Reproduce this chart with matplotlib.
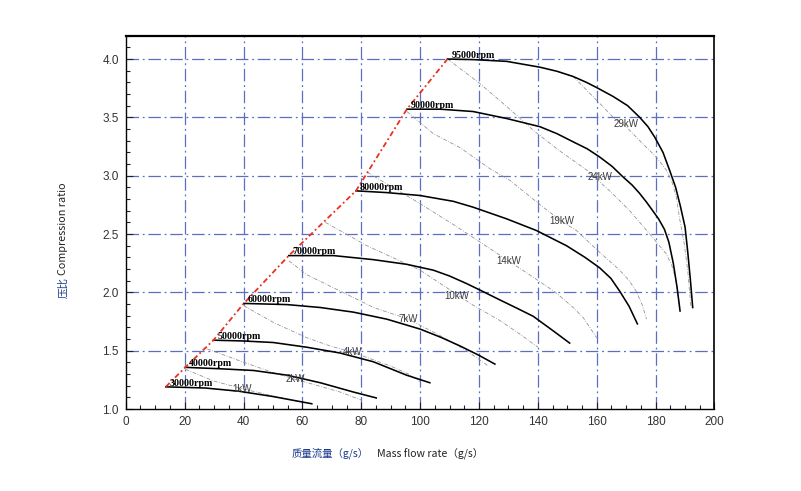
import matplotlib
matplotlib.use("Agg")
import matplotlib.pyplot as plt
from matplotlib.ticker import MultipleLocator, FormatStrFormatter

# ---------------- data ----------------
speed_labels = ["30000rpm", "40000rpm", "50000rpm", "60000rpm",
                "70000rpm", "80000rpm", "90000rpm", "95000rpm"]

s30_x = [13.6, 27.0, 38.5, 50.0, 63.2]
s30_y = [1.19, 1.18, 1.152, 1.107, 1.045]
s40_x = [20.2, 32.0, 43.5, 54.8, 66.1, 77.4, 85.1]
s40_y = [1.357, 1.345, 1.33, 1.29, 1.225, 1.145, 1.095]
s50_x = [29.8, 40.0, 50.1, 61.4, 72.8, 84.1, 95.4, 103.3]
s50_y = [1.59, 1.583, 1.57, 1.53, 1.48, 1.405, 1.29, 1.225]
s60_x = [40.1, 54.8, 66.1, 77.4, 88.7, 100.0, 107.0, 113.6, 120.0, 125.4]
s60_y = [1.905, 1.895, 1.87, 1.83, 1.77, 1.685, 1.615, 1.54, 1.46, 1.385]
s70_x = [55.4, 70.6, 84.2, 95.5, 104.5, 110.0, 115.8, 121.5, 127.1, 132.8, 138.4, 145.2, 150.8]
s70_y = [2.315, 2.315, 2.28, 2.24, 2.19, 2.14, 2.075, 2.005, 1.935, 1.865, 1.795, 1.67, 1.565]
s80_x = [78.2, 88.7, 100.0, 111.3, 118.0, 129.4, 139.5, 149.7, 156.0, 161.0, 164.8, 167.8, 171.0, 173.8]
s80_y = [2.87, 2.855, 2.83, 2.78, 2.73, 2.63, 2.53, 2.40, 2.30, 2.21, 2.12, 2.01, 1.88, 1.73]
s90_x = [95.5, 106.8, 118.0, 129.4, 140.7, 146.5, 152.0, 156.8, 161.0, 165.2, 168.9, 172.0, 174.5, 177.0,
         179.0, 181.0, 183.0, 184.5, 186.0, 187.3, 188.3]
s90_y = [3.57, 3.57, 3.55, 3.49, 3.42, 3.36, 3.29, 3.23, 3.16, 3.08, 2.99, 2.92, 2.85, 2.77,
         2.70, 2.63, 2.54, 2.43, 2.25, 2.04, 1.84]
s95_x = [109.3, 118.0, 129.4, 140.7, 146.5, 152.0, 156.5, 160.0, 165.5, 170.5, 174.6, 177.4, 179.7,
         182.5, 184.7, 186.8, 188.4, 190.0, 190.9, 191.8, 192.6]
s95_y = [4.0, 3.995, 3.98, 3.93, 3.895, 3.85, 3.80, 3.755, 3.68, 3.60, 3.50, 3.42, 3.33,
         3.20, 3.05, 2.90, 2.74, 2.56, 2.35, 2.11, 1.87]

surge_x = [13.6, 20.2, 29.8, 40.1, 55.4, 78.2, 95.5, 109.3]
surge_y = [1.19, 1.357, 1.59, 1.905, 2.315, 2.87, 3.57, 4.0]

power_labels = ["1kW", "2kW", "4kW", "7kW", "10kW", "14kW", "19kW", "24kW", "29kW"]
power_lab_x = [39.5, 57.6, 77.2, 96.0, 112.5, 130.0, 148.0, 161.0, 170.0]
power_lab_y = [1.175, 1.255, 1.485, 1.77, 1.965, 2.27, 2.61, 2.99, 3.44]

p1_x = [20.3, 29.9, 39.5, 50.3, 60.4]
p1_y = [1.34, 1.24, 1.175, 1.11, 1.055]
p2_x = [27.7, 39.0, 50.3, 57.6, 72.9, 80.2]
p2_y = [1.515, 1.41, 1.31, 1.255, 1.145, 1.075]
p4_x = [40.1, 50.3, 61.6, 69.5, 77.2, 89.8, 96.0, 100.0]
p4_y = [1.885, 1.74, 1.61, 1.54, 1.485, 1.37, 1.30, 1.235]
p7_x = [55.4, 61.6, 72.9, 84.2, 96.0, 106.0, 115.8, 123.1]
p7_y = [2.27, 2.15, 2.01, 1.87, 1.77, 1.64, 1.50, 1.37]
p10_x = [67.8, 81.9, 100.0, 109.0, 118.0, 127.0, 134.0, 140.0]
p10_y = [2.60, 2.40, 2.19, 2.04, 1.89, 1.76, 1.64, 1.53]
p14_x = [82.0, 100.0, 112.0, 124.0, 130.0, 138.4, 146.0, 152.0, 155.5, 157.6, 160.0]
p14_y = [3.03, 2.76, 2.57, 2.37, 2.27, 2.13, 2.0, 1.87, 1.78, 1.70, 1.61]
p19_x = [95.5, 104.5, 113.6, 123.7, 130.5, 141.8, 148.0, 153.1, 160.7, 167.8, 171.0, 173.4, 175.5, 176.9]
p19_y = [3.55, 3.36, 3.24, 3.06, 2.96, 2.73, 2.61, 2.53, 2.35, 2.19, 2.10, 2.01, 1.89, 1.77]
p24_x = [109.3, 120.3, 130.0, 138.4, 147.0, 156.5, 164.4, 171.2, 178.0, 183.6, 185.5, 187.0, 188.3]
p24_y = [4.0, 3.79, 3.58, 3.39, 3.22, 3.05, 2.87, 2.70, 2.50, 2.33, 2.23, 2.10, 1.87]
p29_x = [147.0, 152.0, 161.0, 166.0, 170.0, 174.6, 180.2, 183.6, 185.5, 187.0, 188.1, 189.7, 190.9, 192.0]
p29_y = [3.89, 3.85, 3.62, 3.49, 3.42, 3.30, 3.16, 3.05, 2.95, 2.82, 2.64, 2.42, 2.19, 1.87]

x_ticks = [0, 20, 40, 60, 80, 100, 120, 140, 160, 180, 200]
y_ticks = [1.0, 1.5, 2.0, 2.5, 3.0, 3.5, 4.0]

speeds = [(s30_x, s30_y), (s40_x, s40_y), (s50_x, s50_y), (s60_x, s60_y),
          (s70_x, s70_y), (s80_x, s80_y), (s90_x, s90_y), (s95_x, s95_y)]
powers = [(p1_x, p1_y), (p2_x, p2_y), (p4_x, p4_y), (p7_x, p7_y), (p10_x, p10_y),
          (p14_x, p14_y), (p19_x, p19_y), (p24_x, p24_y), (p29_x, p29_y)]

# ---------------- figure ----------------
fig = plt.figure(figsize=(8.01, 4.91), dpi=100)
ax = fig.add_axes([0.157, 0.167, 0.735, 0.7603])
ax.set_xlim(0, 200)
ax.set_ylim(1.0, 4.2)

grid_col = "#5b6ec2"
ax.set_axisbelow(True)
for xv in x_ticks[1:-1]:
    ax.axvline(xv, color=grid_col, lw=0.9, linestyle=(0, (10, 3, 1.5, 3)), zorder=0.5)
for yv in y_ticks[1:]:
    ax.axhline(yv, color=grid_col, lw=0.9, linestyle=(0, (10, 3, 1.5, 3)), zorder=0.5)

# power lines
for (px, py) in powers:
    ax.plot(px, py, color="#8c8c8c", lw=0.55, linestyle=(0, (5, 2, 1, 2)), zorder=2)
for lab, lx, ly in zip(power_labels, power_lab_x, power_lab_y):
    ax.text(lx, ly, lab, fontsize=7, family="Liberation Sans", color="#3a3a3a",
            ha="center", va="center", zorder=4)

# speed lines
for (sx, sy) in speeds:
    ax.plot(sx, sy, color="black", lw=1.15, zorder=3, solid_joinstyle="round")
for lab, (sx, sy) in zip(speed_labels, speeds):
    ax.text(sx[0] + 1.3, sy[0] + 0.01, lab, fontsize=7.2, family="Liberation Serif",
            fontweight="bold", color="black", ha="left", va="baseline", zorder=4)

# surge line
ax.plot(surge_x, surge_y, color="#e8321e", lw=1.3, linestyle=(0, (3, 1.6, 1, 1.6)), zorder=3.5)

# axes styling
ax.set_xticks(x_ticks)
ax.set_yticks(y_ticks)
ax.xaxis.set_minor_locator(MultipleLocator(5))
ax.yaxis.set_minor_locator(MultipleLocator(0.1))
ax.yaxis.set_major_formatter(FormatStrFormatter("%.1f"))
ax.tick_params(which="both", direction="in", top=False, right=False,
               colors="#222222", labelcolor="#333333", labelsize=8.5, width=0.8)
ax.tick_params(which="major", length=5, pad=5)
ax.tick_params(which="minor", length=3)
for lab in ax.get_xticklabels() + ax.get_yticklabels():
    lab.set_family("Liberation Sans")
for sp in ax.spines.values():
    sp.set_color("black")
    sp.set_linewidth(1.0)
ax.spines["top"].set_linewidth(1.6)
ax.spines["right"].set_linewidth(1.2)

cjk = ["Noto Sans CJK SC", "DejaVu Sans"]
# x axis label
fig.text(291.7 / 801, 1 - 453 / 491, "质量流量（g/s）", family=cjk, fontsize=7.5,
         color="#1a3a8c", ha="left", va="center")
fig.text(376.7 / 801, 1 - 453 / 491, "Mass flow rate（g/s）", family=cjk, fontsize=7.6,
         color="#222222", ha="left", va="center")
# y axis label
fig.text(63 / 801, 1 - 298 / 491, "压比", family=cjk, fontsize=7.6, rotation=90,
         color="#1a3a8c", ha="center", va="bottom")
fig.text(63 / 801, 1 - 275 / 491, "Compression ratio", family=cjk, fontsize=7.8, rotation=90,
         color="#222222", ha="center", va="bottom")

fig.savefig("out.png", dpi=100)
